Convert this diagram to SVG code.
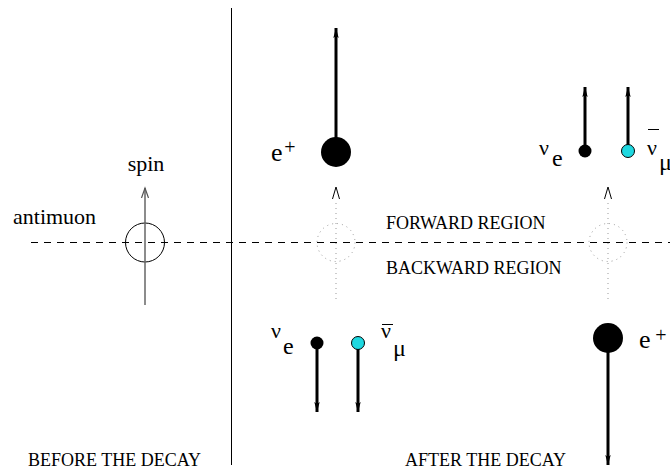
<svg xmlns="http://www.w3.org/2000/svg" width="670" height="470" viewBox="0 0 670 470">
<style>
.t{font-family:"Liberation Serif","Times New Roman",serif;fill:#000}
.cap{font-size:18px}
.lab{font-size:22px}
.thick{stroke:#000;stroke-width:3;fill:none}
.dot{stroke:#999;stroke-width:1;stroke-dasharray:1,4;fill:none}
</style>
<defs>
<marker id="ah" markerUnits="userSpaceOnUse" markerWidth="12" markerHeight="12" refX="10" refY="5" orient="auto">
<path d="M0,2.3 L10,5 L0,7.7 L2,5 Z" fill="#000"/>
</marker>
<marker id="ahg" markerUnits="userSpaceOnUse" markerWidth="12" markerHeight="12" refX="10" refY="5" orient="auto">
<path d="M0,1.5 L10,5 L0,8.5" fill="none" stroke="#555" stroke-width="1.2"/>
</marker>
</defs>

<g id="frame">
<line x1="231.5" y1="8" x2="231.5" y2="465" stroke="#000" stroke-width="1"/>
<line x1="31" y1="242.5" x2="670" y2="242.5" stroke="#000" stroke-width="1" stroke-dasharray="7,6"/>
<text class="t cap" x="386" y="229">FORWARD REGION</text>
<text class="t cap" x="386" y="274">BACKWARD REGION</text>
<text class="t cap" x="28" y="466">BEFORE THE DECAY</text>
<text class="t cap" x="405" y="466">AFTER THE DECAY</text>
</g>

<g id="antimuon">
<circle cx="145" cy="242.5" r="19.5" fill="none" stroke="#000" stroke-width="1"/>
<line x1="145" y1="305" x2="145" y2="188" stroke="#666" stroke-width="1.5" marker-end="url(#ahg)"/>
<text class="t lab" x="146" y="171" text-anchor="middle">spin</text>
<text class="t lab" x="13" y="224">antimuon</text>
</g>

<g id="decay-points">
<circle cx="336" cy="242.5" r="19" class="dot"/>
<circle cx="608" cy="242.5" r="19" class="dot"/>
<line x1="336" y1="203" x2="336" y2="303" class="dot"/>
<line x1="608" y1="203" x2="608" y2="303" class="dot"/>
<polyline points="332.5,199 336,187 339.5,199" fill="none" stroke="#000" stroke-width="1"/>
<polyline points="604.5,199 608,187 611.5,199" fill="none" stroke="#000" stroke-width="1"/>
</g>

<g id="connectors">
<line x1="336" y1="152" x2="336" y2="28" class="thick" marker-end="url(#ah)"/>
<line x1="585" y1="151" x2="585" y2="87" class="thick" marker-end="url(#ah)"/>
<line x1="628" y1="151" x2="628" y2="87" class="thick" marker-end="url(#ah)"/>
<line x1="317" y1="343" x2="317" y2="412" class="thick" marker-end="url(#ah)"/>
<line x1="358" y1="343" x2="358" y2="412" class="thick" marker-end="url(#ah)"/>
<line x1="608" y1="338" x2="608" y2="465" class="thick" marker-end="url(#ah)"/>
</g>

<g id="positron-forward">
<circle cx="336" cy="152" r="15" fill="#000"/>
<text class="t" x="271" y="161" font-size="26">e</text>
<text class="t" x="290" y="154" font-size="20" text-anchor="middle">+</text>
</g>

<g id="nue-forward">
<circle cx="585" cy="151" r="6.5" fill="#000"/>
<text class="t" x="539" y="155" font-size="22">ν</text>
<text class="t" x="552" y="166" font-size="24">e</text>
</g>

<g id="numubar-forward">
<circle cx="628" cy="151" r="6.5" fill="#1fd8e0" stroke="#000" stroke-width="1"/>
<line x1="648" y1="129.5" x2="659" y2="129.5" stroke="#000" stroke-width="1"/>
<text class="t" x="647" y="155" font-size="22">ν</text>
<text class="t" x="659" y="170" font-size="24">μ</text>
</g>

<g id="nue-backward">
<circle cx="317" cy="343" r="6.5" fill="#000"/>
<text class="t" x="271" y="338" font-size="22">ν</text>
<text class="t" x="283" y="354" font-size="24">e</text>
</g>

<g id="numubar-backward">
<circle cx="358" cy="343" r="6.5" fill="#1fd8e0" stroke="#000" stroke-width="1"/>
<line x1="382" y1="324.5" x2="393" y2="324.5" stroke="#000" stroke-width="1"/>
<text class="t" x="381" y="338" font-size="22">ν</text>
<text class="t" x="393" y="356" font-size="24">μ</text>
</g>

<g id="positron-backward">
<circle cx="608" cy="338" r="15" fill="#000"/>
<text class="t" x="639" y="348" font-size="26">e</text>
<text class="t" x="661" y="342" font-size="20" text-anchor="middle">+</text>
</g>
</svg>
